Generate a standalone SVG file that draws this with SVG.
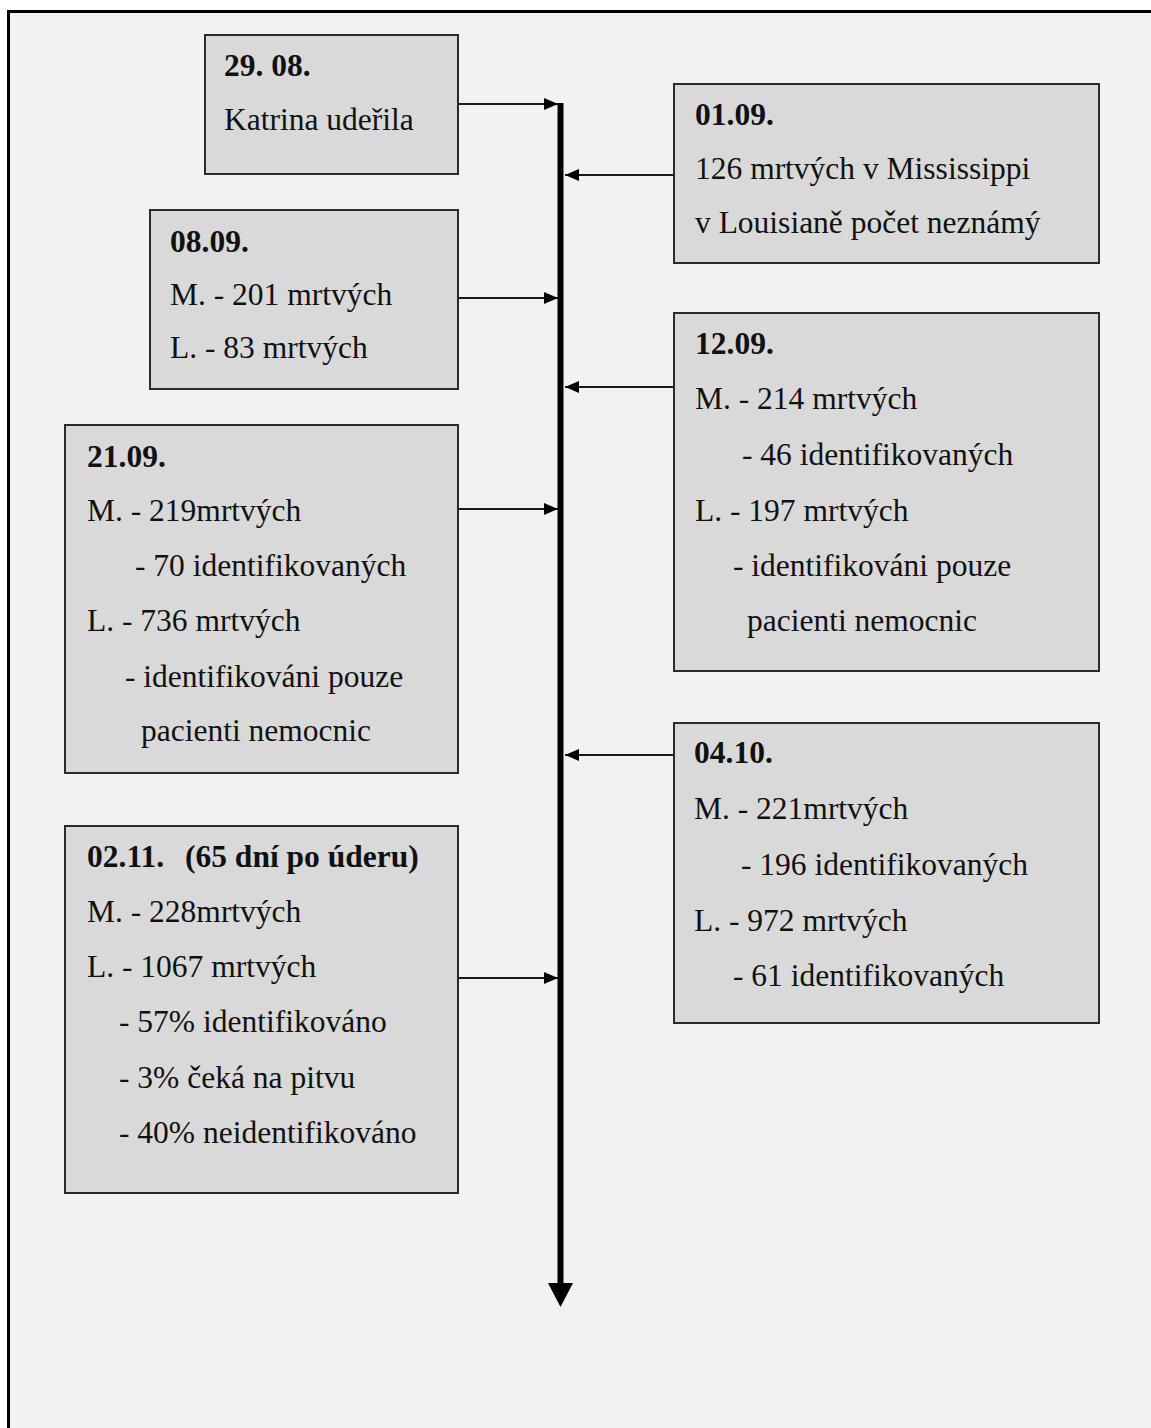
<svg xmlns="http://www.w3.org/2000/svg" width="1151" height="1428" viewBox="0 0 1151 1428">
<style>
.box{fill:#d9d9d9;stroke:#2b2b2b;stroke-width:2}
.t{font-family:"Liberation Serif","Times New Roman",serif;font-size:31.5px;fill:#111}
.b{font-weight:bold}
.con{stroke:#1a1a1a;stroke-width:2;fill:none}
</style>
<defs>
<marker id="ah" markerUnits="userSpaceOnUse" markerWidth="14" markerHeight="12" refX="14" refY="6" orient="auto">
<path d="M0,0 L14,6 L0,12 z" fill="#000"/>
</marker>
</defs>
<rect x="0" y="0" width="1151" height="1428" fill="#ffffff"/>
<rect x="8.5" y="11.5" width="1160" height="1430" fill="#f2f2f2" stroke="#000" stroke-width="3"/>

<g id="connectors">
<line x1="560.5" y1="103" x2="560.5" y2="1286" stroke="#000" stroke-width="6"/>
<polygon points="548,1283 573,1283 560.5,1307" fill="#000"/>
<line class="con" x1="458" y1="104" x2="558" y2="104" marker-end="url(#ah)"/>
<line class="con" x1="674" y1="175" x2="565" y2="175" marker-end="url(#ah)"/>
<line class="con" x1="458" y1="298" x2="558" y2="298" marker-end="url(#ah)"/>
<line class="con" x1="674" y1="387" x2="565" y2="387" marker-end="url(#ah)"/>
<line class="con" x1="458" y1="509" x2="558" y2="509" marker-end="url(#ah)"/>
<line class="con" x1="674" y1="755" x2="565" y2="755" marker-end="url(#ah)"/>
<line class="con" x1="458" y1="978" x2="558" y2="978" marker-end="url(#ah)"/>
</g>

<g id="n2908">
<rect class="box" x="205" y="35" width="253" height="139"/>
<text class="t b" x="224" y="76">29. 08.</text>
<text class="t" x="224" y="130">Katrina udeřila</text>
</g>

<g id="n0109">
<rect class="box" x="674" y="84" width="425" height="179"/>
<text class="t b" x="695" y="125">01.09.</text>
<text class="t" x="695" y="179">126 mrtvých v Mississippi</text>
<text class="t" x="695" y="233">v Louisianě  počet  neznámý</text>
</g>

<g id="n0809">
<rect class="box" x="150" y="210" width="308" height="179"/>
<text class="t b" x="170" y="252">08.09.</text>
<text class="t" x="170" y="305">M. - 201 mrtvých</text>
<text class="t" x="170" y="358">L. - 83 mrtvých</text>
</g>

<g id="n1209">
<rect class="box" x="674" y="313" width="425" height="358"/>
<text class="t b" x="695" y="354">12.09.</text>
<text class="t" x="695" y="409">M. - 214 mrtvých</text>
<text class="t" x="742" y="465">- 46 identifikovaných</text>
<text class="t" x="695" y="521">L. - 197 mrtvých</text>
<text class="t" x="733" y="576">- identifikováni pouze</text>
<text class="t" x="747" y="631">pacienti nemocnic</text>
</g>

<g id="n2109">
<rect class="box" x="65" y="425" width="393" height="348"/>
<text class="t b" x="87" y="467">21.09.</text>
<text class="t" x="87" y="521">M. - 219mrtvých</text>
<text class="t" x="135" y="576">- 70 identifikovaných</text>
<text class="t" x="87" y="631">L. - 736 mrtvých</text>
<text class="t" x="125" y="687">- identifikováni pouze</text>
<text class="t" x="141" y="741">pacienti nemocnic</text>
</g>

<g id="n0410">
<rect class="box" x="674" y="723" width="425" height="300"/>
<text class="t b" x="694" y="763">04.10.</text>
<text class="t" x="694" y="819">M. - 221mrtvých</text>
<text class="t" x="741" y="875">- 196 identifikovaných</text>
<text class="t" x="694" y="931">L. - 972 mrtvých</text>
<text class="t" x="733" y="986">- 61 identifikovaných</text>
</g>

<g id="n0211">
<rect class="box" x="65" y="826" width="393" height="367"/>
<text class="t b" x="87" y="867">02.11.<tspan x="185">(65 dní po úderu)</tspan></text>
<text class="t" x="87" y="922">M. - 228mrtvých</text>
<text class="t" x="87" y="977">L. - 1067 mrtvých</text>
<text class="t" x="119" y="1032">- 57% identifikováno</text>
<text class="t" x="119" y="1088">- 3% čeká na pitvu</text>
<text class="t" x="119" y="1143">- 40% neidentifikováno</text>
</g>
</svg>
